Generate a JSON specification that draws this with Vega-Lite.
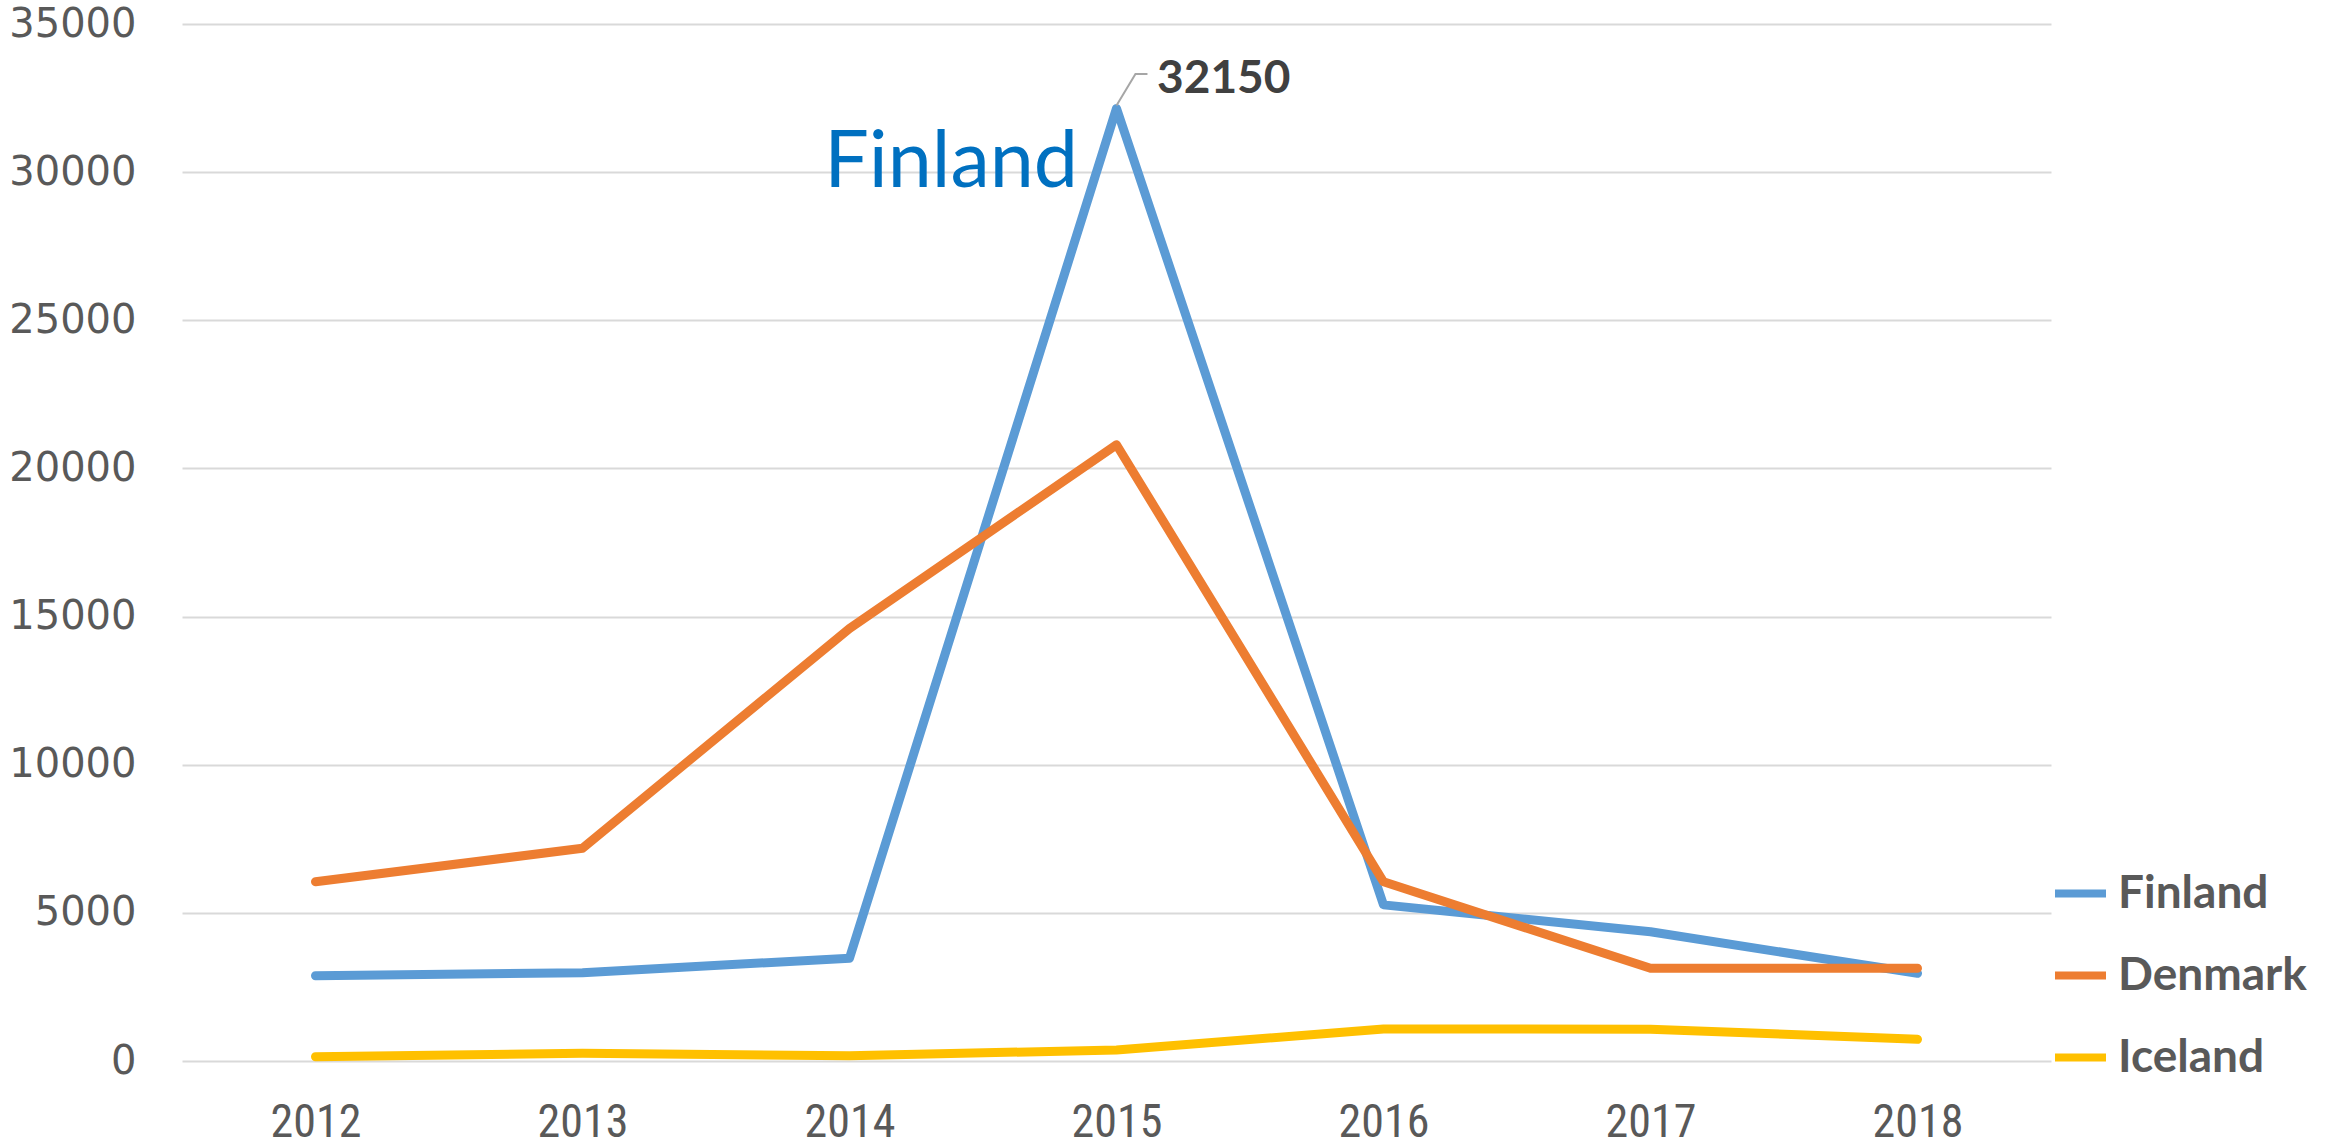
{
  "$schema": "https://vega.github.io/schema/vega-lite/v6.json",
  "width": 1869,
  "height": 1037,
  "autosize": {"type": "none"},
  "padding": {"left": 182, "top": 24, "right": 295, "bottom": 85},
  "config": {"view": {"stroke": null}},
  "datasets": {
    "series": [
      {"year": 2012, "country": "Finland", "value": 2880},
      {"year": 2013, "country": "Finland", "value": 2980},
      {"year": 2014, "country": "Finland", "value": 3470},
      {"year": 2015, "country": "Finland", "value": 32150},
      {"year": 2016, "country": "Finland", "value": 5270},
      {"year": 2017, "country": "Finland", "value": 4360},
      {"year": 2018, "country": "Finland", "value": 2960},
      {"year": 2012, "country": "Denmark", "value": 6050},
      {"year": 2013, "country": "Denmark", "value": 7180},
      {"year": 2014, "country": "Denmark", "value": 14600},
      {"year": 2015, "country": "Denmark", "value": 20800},
      {"year": 2016, "country": "Denmark", "value": 6050},
      {"year": 2017, "country": "Denmark", "value": 3130},
      {"year": 2018, "country": "Denmark", "value": 3130},
      {"year": 2012, "country": "Iceland", "value": 145},
      {"year": 2013, "country": "Iceland", "value": 260},
      {"year": 2014, "country": "Iceland", "value": 180},
      {"year": 2015, "country": "Iceland", "value": 370},
      {"year": 2016, "country": "Iceland", "value": 1080},
      {"year": 2017, "country": "Iceland", "value": 1075},
      {"year": 2018, "country": "Iceland", "value": 730}
    ],
    "leader": [
      {"year": 2015.0, "value": 32250, "step": 1},
      {"year": 2015.071, "value": 33310, "step": 2},
      {"year": 2015.116, "value": 33310, "step": 3}
    ],
    "bigLabel": [
      {"year": 2014.856, "value": 29500, "label": "Finland"}
    ],
    "peakLabel": [
      {"year": 2015.152, "value": 32670, "label": "32150"}
    ]
  },
  "encoding": {
    "x": {
      "field": "year",
      "type": "quantitative",
      "scale": {"domain": [2011.5, 2018.5], "nice": false, "zero": false},
      "axis": {
        "title": null,
        "values": [2012, 2013, 2014, 2015, 2016, 2017, 2018],
        "format": "d",
        "grid": false,
        "ticks": false,
        "domain": false,
        "labelFont": "'Liberation Sans Narrow', 'Roboto Condensed', Roboto",
        "labelFontSize": 46,
        "labelColor": "#595959",
        "labelPadding": 39,
        "labelBaseline": "top"
      }
    },
    "y": {
      "field": "value",
      "type": "quantitative",
      "scale": {"domain": [0, 35000], "nice": false},
      "axis": {
        "title": null,
        "values": [0, 5000, 10000, 15000, 20000, 25000, 30000, 35000],
        "format": "d",
        "grid": true,
        "gridColor": "#D9D9D9",
        "gridWidth": 2,
        "ticks": false,
        "domain": false,
        "labelFont": "DejaVu Sans",
        "labelFontSize": 40,
        "labelColor": "#595959",
        "labelPadding": 46
      }
    }
  },
  "layer": [
    {
      "data": {"name": "series"},
      "mark": {"type": "line", "strokeWidth": 9, "strokeCap": "round", "strokeJoin": "round"},
      "encoding": {
        "order": {"field": "year"},
        "color": {
          "field": "country",
          "type": "nominal",
          "scale": {"domain": ["Finland", "Denmark", "Iceland"], "range": ["#5B9BD5", "#ED7D31", "#FFC000"]},
          "legend": {
            "title": null,
            "orient": "none",
            "legendX": 1869,
            "legendY": 840,
            "padding": 0,
            "symbolType": "stroke",
            "symbolSize": 2601,
            "symbolStrokeWidth": 8,
            "labelFont": "Lato",
            "labelFontWeight": "bold",
            "labelFontSize": 46,
            "labelColor": "#595959",
            "labelOffset": 8,
            "rowPadding": 29,
            "labelLimit": 400
          }
        }
      }
    },
    {
      "data": {"name": "leader"},
      "mark": {"type": "line", "color": "#A6A6A6", "strokeWidth": 2},
      "encoding": {"order": {"field": "step"}}
    },
    {
      "data": {"name": "bigLabel"},
      "mark": {"type": "text", "align": "right", "baseline": "alphabetic", "font": "Lato", "fontSize": 79, "color": "#0070C0"},
      "encoding": {"text": {"field": "label"}}
    },
    {
      "data": {"name": "peakLabel"},
      "mark": {"type": "text", "align": "left", "baseline": "alphabetic", "font": "Lato", "fontWeight": "bold", "fontSize": 46, "color": "#404040"},
      "encoding": {"text": {"field": "label"}}
    }
  ]
}
